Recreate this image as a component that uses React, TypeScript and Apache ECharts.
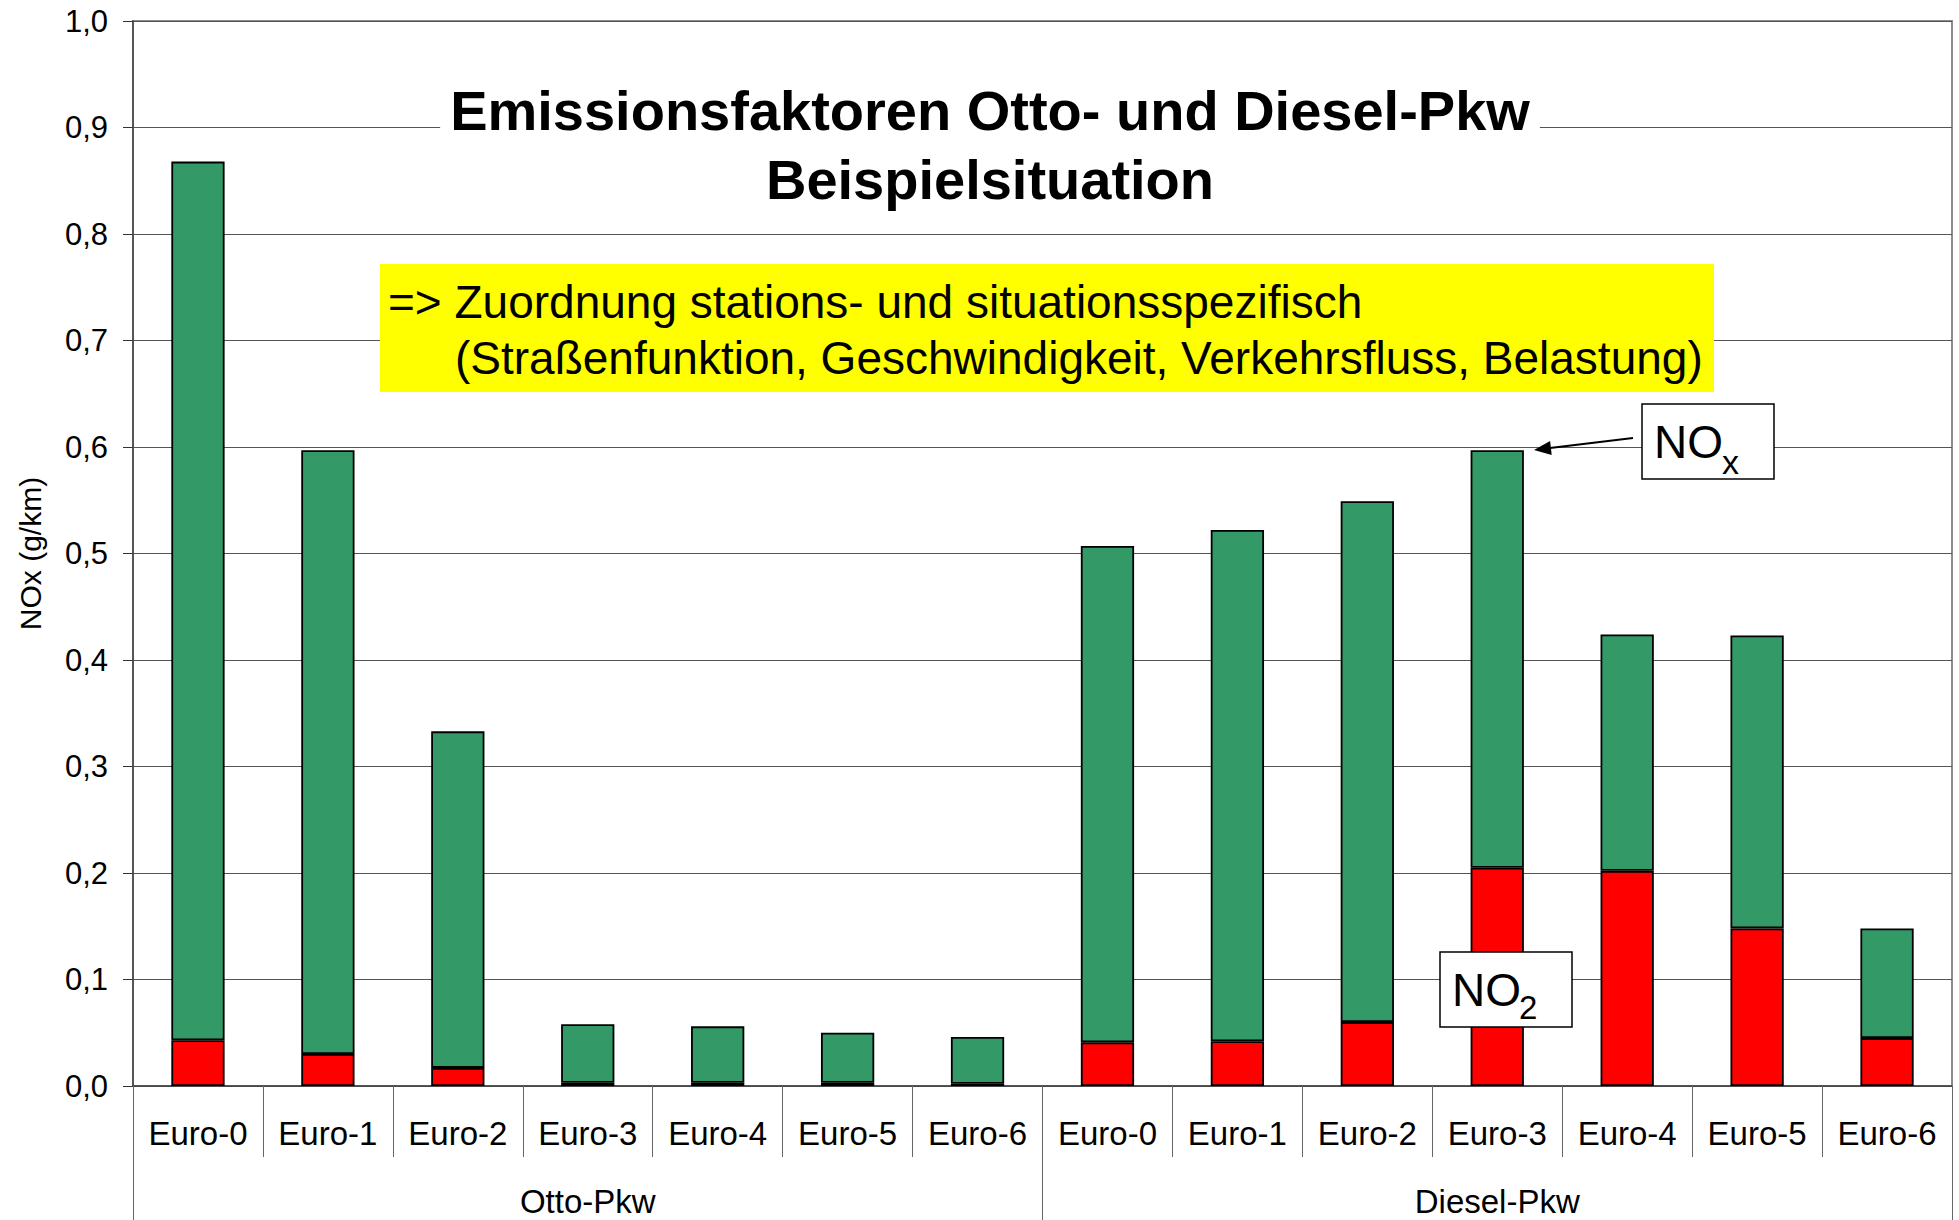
import React, { useEffect, useRef } from "react";
import * as echarts from "echarts";

const FONT = "'Liberation Sans', Arial, sans-serif";

const categories = [
  "Euro-0", "Euro-1", "Euro-2", "Euro-3", "Euro-4", "Euro-5", "Euro-6",
  "Euro-0", "Euro-1", "Euro-2", "Euro-3", "Euro-4", "Euro-5", "Euro-6",
];
const groups = ["Otto-Pkw", "Diesel-Pkw"];
// total NOx per category (g/km)
const noxTotal = [0.868, 0.597, 0.333, 0.058, 0.056, 0.05, 0.046, 0.507, 0.522, 0.549, 0.597, 0.424, 0.423, 0.148];
// NO2 share per category (g/km)
const no2 = [0.043, 0.03, 0.017, 0.003, 0.003, 0.003, 0.002, 0.041, 0.042, 0.06, 0.205, 0.202, 0.148, 0.045];
const titleLines = ["Emissionsfaktoren Otto- und Diesel-Pkw", "Beispielsituation"];
const noteLine1 = "=> Zuordnung stations- und situationsspezifisch";
const noteLine2 = "(Straßenfunktion, Geschwindigkeit, Verkehrsfluss, Belastung)";
const yAxisName = "NOx (g/km)";

export default function App() {
  const ref = useRef<HTMLDivElement>(null);

  useEffect(() => {
    if (!ref.current) return;
    const chart = echarts.init(ref.current, undefined, { renderer: "svg" });
    const rest = noxTotal.map((t, i) => Math.max(0, +(t - no2[i]).toFixed(4)));
    const barBorder = { borderColor: "#000", borderWidth: 1.8 };

    chart.setOption({
      animation: false,
      backgroundColor: "#fff",
      textStyle: { fontFamily: FONT },
      title: {
        text: titleLines.join("\n"),
        left: 980,
        top: 72,
        textAlign: "center",
        textVerticalAlign: "top",
        backgroundColor: "#fff",
        padding: [4, 10],
        textStyle: { fontSize: 56, fontWeight: "bold", color: "#000", lineHeight: 69, fontFamily: FONT },
      },
      grid: {
        left: 133,
        right: 7,
        top: 21,
        bottom: 134,
        containLabel: false,
        outerBoundsMode: "none",
        show: true,
        borderColor: "#8c8c8c",
        borderWidth: 2,
      },
      xAxis: [
        {
          type: "category",
          data: categories,
          position: "bottom",
          axisLine: { show: true, lineStyle: { color: "#444", width: 1.5 } },
          axisTick: { show: true, interval: 0, length: 71, lineStyle: { color: "#666", width: 1 } },
          axisLabel: { interval: 0, fontSize: 33, color: "#000", margin: 31, fontFamily: FONT },
          splitLine: { show: false },
        },
        {
          type: "category",
          data: groups,
          position: "bottom",
          axisLine: { show: false },
          axisTick: { show: true, interval: 0, length: 134, lineStyle: { color: "#666", width: 1 } },
          axisLabel: { interval: 0, fontSize: 33, color: "#000", margin: 99, fontFamily: FONT },
          splitLine: { show: false },
        },
      ],
      yAxis: {
        type: "value",
        min: 0,
        max: 1,
        interval: 0.1,
        name: yAxisName,
        nameLocation: "middle",
        nameRotate: 90,
        nameGap: 88,
        nameTextStyle: { fontSize: 30, color: "#000", fontFamily: FONT },
        axisLine: { show: true, lineStyle: { color: "#555", width: 2 } },
        axisTick: { show: true, length: 10, lineStyle: { color: "#333", width: 1 } },
        axisLabel: {
          fontSize: 31,
          color: "#000",
          margin: 25,
          fontFamily: FONT,
          formatter: (v: number) => v.toFixed(1).replace(".", ","),
        },
        splitLine: { show: true, lineStyle: { color: "#555", width: 1 } },
      },
      series: [
        {
          name: "NO2",
          type: "bar",
          stack: "nox",
          xAxisIndex: 0,
          barWidth: "41%",
          data: no2,
          itemStyle: { color: "#ff0000", ...barBorder },
        },
        {
          name: "NOx",
          type: "bar",
          stack: "nox",
          xAxisIndex: 0,
          barWidth: "41%",
          data: rest,
          itemStyle: { color: "#339966", ...barBorder },
        },
      ],
      graphic: [
        {
          type: "group",
          z: 100,
          children: [
            { type: "rect", shape: { x: 380, y: 264, width: 1334, height: 128 }, style: { fill: "#ffff00" }, z: 100 },
            {
              type: "text", x: 388, y: 302, z: 101,
              style: { text: noteLine1, fontSize: 46, fontFamily: FONT, fill: "#000", align: "left", verticalAlign: "middle", textAlign: "left", textVerticalAlign: "middle" },
            },
            {
              type: "text", x: 455, y: 358, z: 101,
              style: { text: noteLine2, fontSize: 46, fontFamily: FONT, fill: "#000", align: "left", verticalAlign: "middle", textAlign: "left", textVerticalAlign: "middle" },
            },
            // NOx label box + arrow
            { type: "rect", shape: { x: 1642, y: 404, width: 132, height: 75 }, style: { fill: "#fff", stroke: "#000", lineWidth: 1.5 }, z: 100 },
            {
              type: "text", x: 1654, y: 442, z: 101,
              style: { text: "NO", fontSize: 46, fontFamily: FONT, fill: "#000", align: "left", verticalAlign: "middle", textAlign: "left", textVerticalAlign: "middle" },
            },
            {
              type: "text", x: 1722, y: 462, z: 101,
              style: { text: "x", fontSize: 34, fontFamily: FONT, fill: "#000", align: "left", verticalAlign: "middle", textAlign: "left", textVerticalAlign: "middle" },
            },
            { type: "line", shape: { x1: 1633, y1: 438, x2: 1550, y2: 448 }, style: { stroke: "#000", lineWidth: 2 }, z: 101 },
            {
              type: "polygon",
              shape: { points: [[1534, 450], [1551.7, 455], [1550.1, 441]] },
              style: { fill: "#000" },
              z: 101,
            },
            // NO2 label box
            { type: "rect", shape: { x: 1440, y: 952, width: 132, height: 75 }, style: { fill: "#fff", stroke: "#000", lineWidth: 1.5 }, z: 100 },
            {
              type: "text", x: 1452, y: 990, z: 101,
              style: { text: "NO", fontSize: 46, fontFamily: FONT, fill: "#000", align: "left", verticalAlign: "middle", textAlign: "left", textVerticalAlign: "middle" },
            },
            {
              type: "text", x: 1519, y: 1007, z: 101,
              style: { text: "2", fontSize: 33, fontFamily: FONT, fill: "#000", align: "left", verticalAlign: "middle", textAlign: "left", textVerticalAlign: "middle" },
            },
          ],
        },
      ],
    });

    return () => chart.dispose();
  }, []);

  return (
    <div
      ref={ref}
      style={{ position: "absolute", left: 0, top: 0, width: 1959, height: 1220, background: "#fff" }}
    />
  );
}
